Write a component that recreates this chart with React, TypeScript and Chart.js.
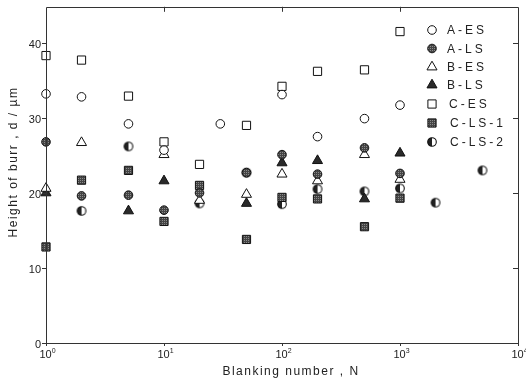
import React, { useEffect, useRef } from 'react';
import { Chart, registerables } from 'chart.js';
import { drawPoint } from 'chart.js/helpers';

Chart.register(...registerables);

// ---- data ----
const seriesNames = ['A-ES', 'A-LS', 'B-ES', 'B-LS', 'C-ES', 'C-LS-1', 'C-LS-2'];

const aesN = [1, 2, 5, 10, 30, 100, 200, 500, 1000];
const aesH = [33.2, 32.8, 29.2, 25.7, 29.2, 33.1, 27.5, 29.9, 31.7];

const alsN = [1, 2, 5, 10, 20, 50, 100, 200, 500, 1000];
const alsH = [26.8, 19.6, 19.7, 17.7, 20.0, 22.7, 25.1, 22.5, 26.0, 22.6];

const besN = [1, 2, 10, 20, 50, 100, 200, 500, 1000];
const besH = [20.6, 26.7, 25.1, 19.0, 19.8, 22.5, 21.6, 25.1, 21.8];

const blsN = [1, 5, 10, 50, 100, 200, 500, 1000];
const blsH = [20.0, 17.6, 21.6, 18.6, 24.0, 24.3, 19.2, 25.3];

const cesN = [1, 2, 5, 10, 20, 50, 100, 200, 500, 1000];
const cesH = [38.3, 37.7, 32.9, 26.8, 23.8, 29.0, 34.2, 36.2, 36.4, 41.5];

const cls1N = [1, 2, 5, 10, 20, 50, 100, 200, 500, 1000];
const cls1H = [12.8, 21.7, 23.0, 16.2, 21.0, 13.8, 19.4, 19.2, 15.5, 19.3];

const cls2N = [2, 5, 20, 50, 100, 200, 500, 1000, 2000, 5000];
const cls2H = [17.6, 26.2, 18.6, 22.7, 18.5, 20.5, 20.2, 20.6, 18.7, 23.0];

const yTicks = [0, 10, 20, 30, 40];
const xTickExps = [0, 1, 2, 3, 4];
const yTitle = 'Height of burr , d / µm';
const xTitle = 'Blanking number , N';

const toPts = (n: number[], h: number[]) => n.map((x, i) => ({ x, y: h[i] }));

function makePattern(dark: string, light: string) {
  const c = document.createElement('canvas');
  c.width = 2;
  c.height = 2;
  const g = c.getContext('2d')!;
  g.fillStyle = dark;
  g.fillRect(0, 0, 2, 2);
  g.fillStyle = light;
  g.fillRect(0, 0, 1, 1);
  return g.createPattern(c, 'repeat')!;
}

function makeHalfCircle() {
  const c = document.createElement('canvas');
  c.width = 12;
  c.height = 12;
  const g = c.getContext('2d')!;
  const cx = 6, cy = 6, r = 4.3;
  g.fillStyle = '#fff';
  g.beginPath();
  g.arc(cx, cy, r, 0, Math.PI * 2);
  g.fill();
  g.fillStyle = '#222';
  g.beginPath();
  g.arc(cx, cy, r, Math.PI / 2, (Math.PI * 3) / 2);
  g.closePath();
  g.fill();
  g.strokeStyle = '#111';
  g.lineWidth = 1.1;
  g.beginPath();
  g.arc(cx, cy, r, 0, Math.PI * 2);
  g.stroke();
  return c;
}

export default function App() {
  const ref = useRef<HTMLCanvasElement>(null);

  useEffect(() => {
    const canvas = ref.current!;
    const ctx0 = canvas.getContext('2d')!;
    const greyPat = makePattern('#444', '#8a8a8a');
    const half = makeHalfCircle();

    const styles: any[] = [
      { pointStyle: 'circle', radius: 4.3, bg: '#fff' },
      { pointStyle: 'circle', radius: 4.3, bg: greyPat },
      { pointStyle: 'triangle', radius: 5.8, bg: '#fff' },
      { pointStyle: 'triangle', radius: 5.8, bg: '#2a2a2a' },
      { pointStyle: 'rect', radius: 5.8, bg: '#fff' },
      { pointStyle: 'rect', radius: 5.8, bg: greyPat },
      { pointStyle: half, radius: 4.3, bg: '#fff' },
    ];
    const pairs: [number[], number[]][] = [
      [aesN, aesH],
      [alsN, alsH],
      [besN, besH],
      [blsN, blsH],
      [cesN, cesH],
      [cls1N, cls1H],
      [cls2N, cls2H],
    ];

    const datasets = seriesNames.map((name, i) => ({
      label: name,
      data: toPts(pairs[i][0], pairs[i][1]),
      pointStyle: styles[i].pointStyle,
      pointRadius: styles[i].radius,
      pointBackgroundColor: styles[i].bg,
      pointBorderColor: '#111',
      pointBorderWidth: 1,
      showLine: false,
      clip: false as any,
    }));

    const font = '"Liberation Sans", Arial, sans-serif';

    const framePlugin = {
      id: 'frame',
      afterDraw(chart: any) {
        const ctx = chart.ctx;
        const { left, right, top, bottom } = chart.chartArea;
        const xs = chart.scales.x;
        const ys = chart.scales.y;
        ctx.save();
        ctx.strokeStyle = '#333';
        ctx.lineWidth = 1;
        ctx.beginPath();
        ctx.rect(Math.round(left) + 0.5, Math.round(top) + 0.5, Math.round(right - left), Math.round(bottom - top));
        ctx.stroke();

        ctx.fillStyle = '#222';
        ctx.font = `11px ${font}`;
        ctx.textAlign = 'right';
        ctx.textBaseline = 'middle';
        yTicks.forEach((v) => {
          const y = Math.round(ys.getPixelForValue(v)) + 0.5;
          ctx.beginPath();
          ctx.moveTo(left - 4, y);
          ctx.lineTo(left, y);
          if (v > 0) {
            ctx.moveTo(right - 5, y);
            ctx.lineTo(right, y);
          }
          ctx.stroke();
          ctx.fillText(String(v), left - 5, y + 1);
        });

        xTickExps.forEach((e) => {
          const v = Math.pow(10, e);
          const x = Math.round(xs.getPixelForValue(v)) + 0.5;
          ctx.beginPath();
          if (e > 0 && e < 4) {
            ctx.moveTo(x, top);
            ctx.lineTo(x, top + 5);
          }
          ctx.moveTo(x, bottom);
          ctx.lineTo(x, bottom + 3);
          ctx.stroke();
          ctx.font = `11px ${font}`;
          const w1 = ctx.measureText('10').width;
          ctx.font = `7px ${font}`;
          const w2 = ctx.measureText(String(e)).width;
          const x0 = x - (w1 + w2) / 2 + 1;
          ctx.textAlign = 'left';
          ctx.textBaseline = 'alphabetic';
          ctx.font = `11px ${font}`;
          ctx.fillText('10', x0, bottom + 15);
          ctx.font = `7px ${font}`;
          ctx.fillText(String(e), x0 + w1, bottom + 10);
        });

        // axis titles
        ctx.font = `12px ${font}`;
        (ctx as any).letterSpacing = '1.5px';
        ctx.textAlign = 'center';
        ctx.textBaseline = 'middle';
        ctx.fillText(xTitle, 291, 372);
        ctx.save();
        ctx.translate(14, 162);
        ctx.rotate(-Math.PI / 2);
        ctx.fillText(yTitle, 0, 0);
        ctx.restore();

        // legend
        ctx.font = `12px ${font}`;
        (ctx as any).letterSpacing = '3px';
        ctx.textAlign = 'left';
        ctx.textBaseline = 'middle';
        const rowY = [30, 48.5, 67, 85, 104, 123, 142];
        seriesNames.forEach((name, i) => {
          const st = styles[i];
          ctx.save();
          ctx.fillStyle = st.bg;
          ctx.strokeStyle = '#111';
          ctx.lineWidth = 1;
          drawPoint(ctx, { pointStyle: st.pointStyle, radius: st.radius, borderWidth: 1, rotation: 0 } as any, 432, rowY[i]);
          ctx.restore();
          ctx.fillStyle = '#222';
          ctx.fillText(name, i >= 5 ? 450 : i === 4 ? 449 : 447, rowY[i] + 1);
        });
        (ctx as any).letterSpacing = '0px';
        ctx.restore();
      },
    };

    const chart = new Chart(ctx0, {
      type: 'scatter',
      data: { datasets },
      options: {
        animation: false,
        responsive: false,
        layout: { padding: { left: 46, right: 8, top: 5, bottom: 41 } },
        plugins: { legend: { display: false }, tooltip: { enabled: false }, title: { display: false } },
        scales: {
          x: { type: 'logarithmic', min: 1, max: 10000, display: false },
          y: { type: 'linear', min: 0, max: 44.8, display: false },
        },
      },
      plugins: [framePlugin],
    });
    return () => chart.destroy();
  }, []);

  return (
    <div style={{ position: 'fixed', left: 0, top: 0, width: 526, height: 384, background: '#fff' }}>
      <canvas ref={ref} width={526} height={384} style={{ display: 'block' }} />
    </div>
  );
}
